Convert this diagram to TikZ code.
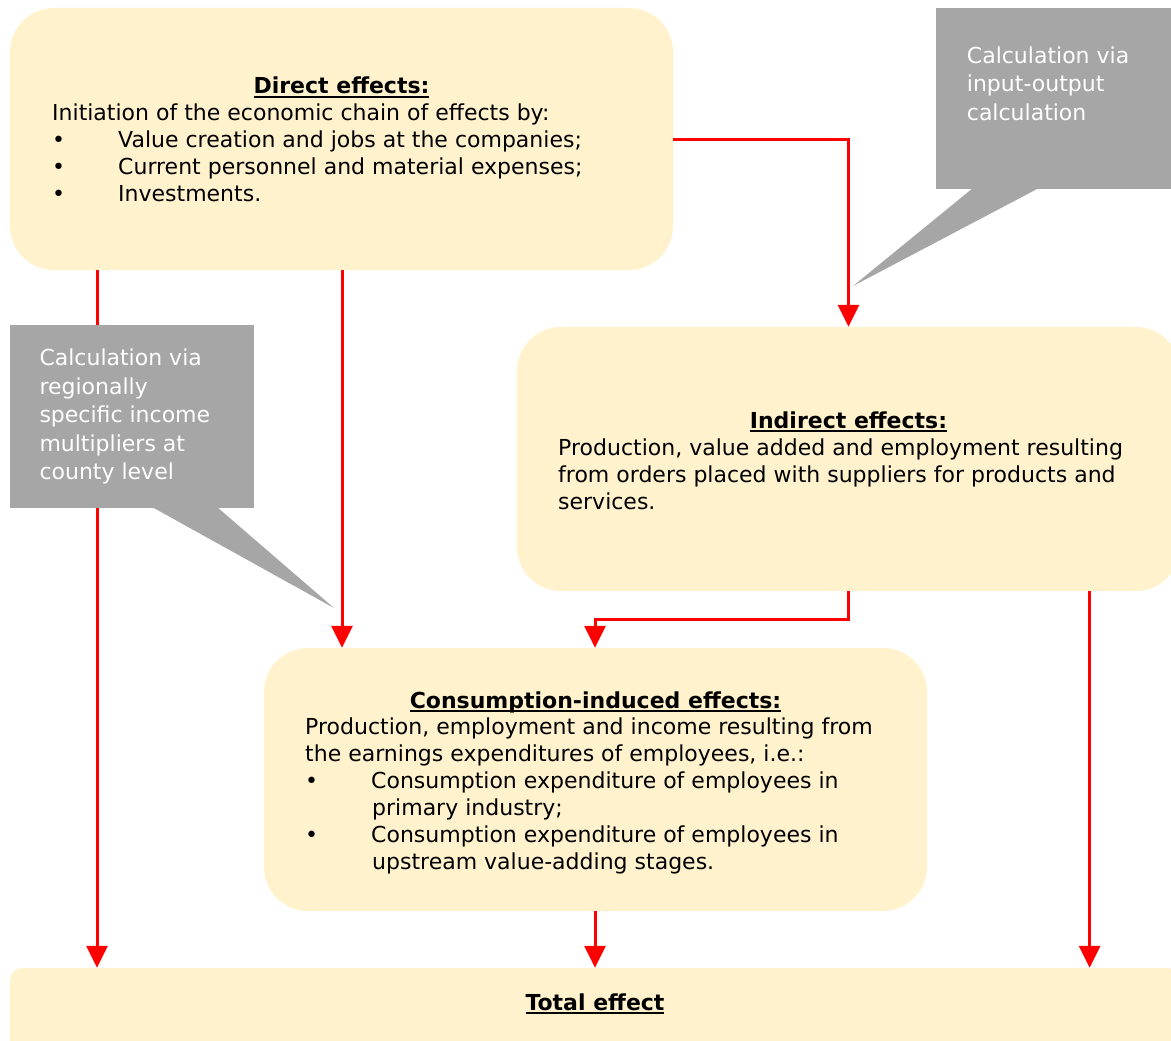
\documentclass[tikz,border=0pt]{standalone}
\usepackage{fontspec}
\setmainfont{DejaVu Sans}
\usetikzlibrary{arrows.meta}
\definecolor{boxfill}{HTML}{FFF2CC}
\definecolor{callgray}{HTML}{A6A6A6}
\definecolor{arrred}{HTML}{FF0000}
\newcommand\hdrtext[1]{\setbox0\hbox{\bfseries #1}\rlap{\copy0}\rule[-3.6pt]{\wd0}{1.8pt}}
\newcommand\blt{\makebox[66pt][l]{•}}
\begin{document}
\begin{tikzpicture}[x=1pt,y=-1pt,
  effbox/.style={fill=boxfill, draw=none, rounded corners=44pt, inner sep=0pt},
  callout/.style={fill=callgray, draw=none, inner sep=0pt},
  txt/.style={inner sep=0pt, anchor=base west, font=\fontsize{22}{27}\selectfont},
  hdr/.style={inner sep=0pt, anchor=base, font=\fontsize{22}{27}\selectfont},
  calltxt/.style={inner sep=0pt, anchor=base west, text=white, font=\fontsize{22}{28.5}\selectfont},
  flow/.style={draw=arrred, line width=3pt, -{Triangle[width=21pt,length=22pt]}}]
\useasboundingbox (0,0) rectangle (1171,1041);
\clip (0,0) rectangle (1171,1041);
% boxes
\node[effbox, minimum width=663pt, minimum height=262pt] (direct) at (341.5,139) {};
\node[effbox, minimum width=663pt, minimum height=264pt] (indirect) at (848.5,459) {};
\node[effbox, minimum width=663pt, minimum height=263pt] (consum) at (595.5,779.5) {};
\node[effbox, rounded corners=12pt, minimum width=1170pt, minimum height=92pt] (total) at (595,1014) {};
% helper coordinates
\coordinate (xl) at (97,0);
\coordinate (xm) at (342,0);
\coordinate (xi) at (848,0);
\coordinate (xr) at (1089.6,0);
\coordinate (xc) at (595,0);
\coordinate (yj) at (0,619);
% connectors
\draw[flow] (direct.east) -| (indirect.north);
\draw[flow] (direct.south -| xl) -- (total.north -| xl);
\draw[flow] (direct.south -| xm) -- (consum.north -| xm);
\draw[flow] (indirect.south -| xi) -- (xi |- yj) -- (xc |- yj) -- (consum.north -| xc);
\draw[flow] (indirect.south -| xr) -- (total.north -| xr);
\draw[flow] (consum.south -| xc) -- (total.north -| xc);
% callouts
\node[callout, minimum width=244pt, minimum height=181pt] (calltop) at (1058,98.5) {};
\fill[callgray] (973,188) -- (853,286) -- (1039,188) -- cycle;
\node[callout, minimum width=244pt, minimum height=183pt] (callleft) at (132,416.5) {};
\fill[callgray] (152,507) -- (334,608) -- (217,507) -- cycle;
% texts
\node[hdr] (dh) at (341.5,94) {\hdrtext{Direct effects:}};
\node[txt] (db) at (52,121) {\parbox[t]{610pt}{Initiation of the economic chain of effects by:\\
\blt Value creation and jobs at the companies;\\
\blt Current personnel and material expenses;\\
\blt Investments.}};
\node[hdr] (ih) at (848.5,428) {\hdrtext{Indirect effects:}};
\node[txt] (ib) at (558,455) {\parbox[t]{610pt}{Production, value added and employment resulting\\
from orders placed with suppliers for products and\\
services.}};
\node[hdr] (ch) at (595.5,708) {\hdrtext{Consumption-induced effects:}};
\node[txt] (cb) at (305,734) {\parbox[t]{610pt}{Production, employment and income resulting from\\
the earnings expenditures of employees, i.e.:\\
\blt Consumption expenditure of employees in\\
\hspace*{67pt}primary industry;\\
\blt Consumption expenditure of employees in\\
\hspace*{67pt}upstream value-adding stages.}};
\node[hdr] (th) at (595,1010) {\hdrtext{Total effect}};
\node[calltxt] (tt) at (966.7,63.3) {\parbox[t]{200pt}{Calculation via\\input-output\\calculation}};
\node[calltxt] (lt) at (39.3,365.7) {\parbox[t]{210pt}{Calculation via\\regionally\\specific income\\multipliers at\\county level}};
\end{tikzpicture}
\end{document}
